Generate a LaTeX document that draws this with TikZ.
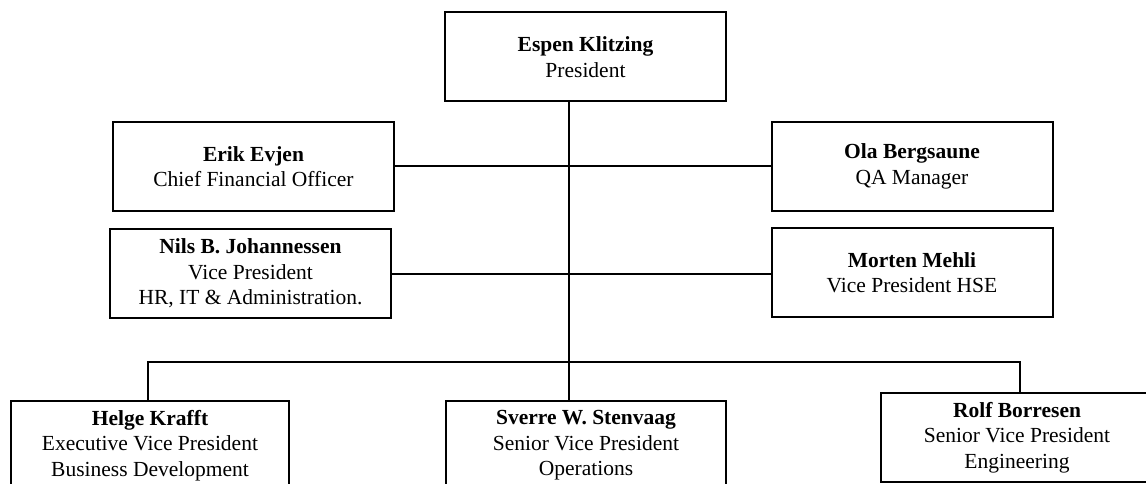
\documentclass[tikz,border=0pt]{standalone}
\usepackage{fontspec}
\setmainfont{Liberation Serif}
\usepackage{tikz}
\usetikzlibrary{positioning}

\tikzset{
  pbox/.style={draw, line width=2pt, align=center, inner sep=0pt,
    minimum width=281pt, minimum height=89pt,
    font=\fontsize{21.5}{25.5}\selectfont},
  link/.style={line width=2pt}
}

\begin{document}
\begin{tikzpicture}[x=1pt,y=-1pt]
      \useasboundingbox (0,0) rectangle (1146,484);
      \node[pbox] (pres) at (585.5,57) {\textbf{Espen Klitzing}\\President};
      \node[pbox] (erik) at (253.5,166.5) {\textbf{Erik Evjen}\\Chief Financial Officer};
      \node[pbox] (ola) at (912,166.5) {\textbf{Ola Bergsaune}\\QA Manager};
      \node[pbox] (nils) at (250.5,273.5) {\textbf{Nils B. Johannessen}\\Vice President\\HR, IT \& Administration.};
      \node[pbox] (morten) at (912,272.5) {\textbf{Morten Mehli}\\Vice President HSE};
      \node[pbox,minimum width=278pt] (helge) at (150,445.5) {\textbf{Helge Krafft}\\Executive Vice President\\Business Development};
      \node[pbox,minimum width=280pt] (sverre) at (586,445.5) {\textbf{Sverre W. Stenvaag}\\Senior Vice President\\Operations};
      \node[pbox,minimum width=272pt] (rolf) at (1017,437.5) {\textbf{Rolf Borresen}\\Senior Vice President\\Engineering};
      \coordinate (top) at (569,101);
      \coordinate (bus) at (569,362);
      \coordinate (busl) at (148,362);
      \coordinate (busr) at (1020,362);
      \draw[link] (top) -- (sverre.north -| top);
      \draw[link] (erik.east) -- (ola.west);
      \draw[link] (nils.east) -- (nils.east -| morten.west);
      \draw[link] (helge.north -| busl) -- (busl) -- (busr) -- (rolf.north -| busr);
\end{tikzpicture}
\end{document}
